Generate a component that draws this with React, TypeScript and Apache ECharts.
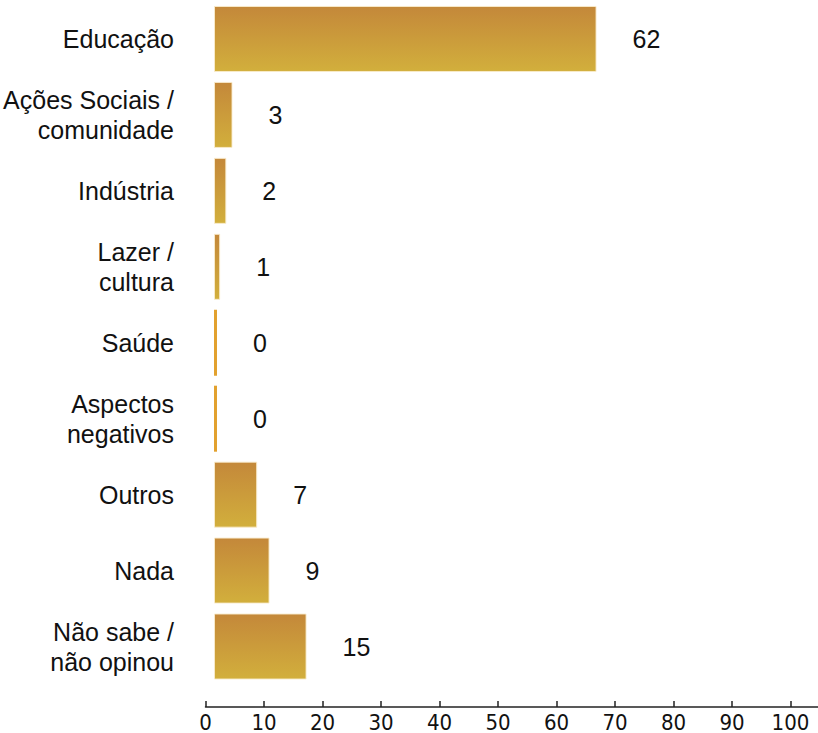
import React, { useEffect, useRef } from "react";
import * as echarts from "echarts";

const categories = [
  "Educação",
  "Ações Sociais /\ncomunidade",
  "Indústria",
  "Lazer /\ncultura",
  "Saúde",
  "Aspectos\nnegativos",
  "Outros",
  "Nada",
  "Não sabe /\nnão opinou",
];
const values = [62, 3, 2, 1, 0, 0, 7, 9, 15];
const tickValues = [0, 10, 20, 30, 40, 50, 60, 70, 80, 90, 100];

export default function App() {
  const ref = useRef<HTMLDivElement>(null);
  useEffect(() => {
    if (!ref.current) return;
    const chart = echarts.init(ref.current, null, { renderer: "svg" });
    const grad = new echarts.graphic.LinearGradient(0, 0, 0, 1, [
      { offset: 0, color: "#C4883A" },
      { offset: 1, color: "#D2AF3C" },
    ]);
    const barScale = 6.17; // px per unit
    chart.setOption({
      animation: false,
      backgroundColor: "#ffffff",
      grid: [
        { left: 214, top: 1, width: 604, height: 683.5, outerBoundsMode: "none", containLabel: false },
        { left: 205.5, top: 690, width: 612.5, height: 17, outerBoundsMode: "none", containLabel: false },
      ],
      xAxis: [
        { gridIndex: 0, type: "value", min: 0, max: 604 / barScale, show: false },
        {
          gridIndex: 1,
          type: "value",
          min: 0,
          max: 612.5 / 5.85,
          position: "bottom",
          splitLine: { show: false },
          axisLine: { show: true, lineStyle: { color: "#222", width: 1.5 } },
          axisTick: {
            show: true,
            inside: true,
            length: 6,
            customValues: tickValues,
            lineStyle: { color: "#222", width: 1.5 },
          },
          axisLabel: {
            customValues: tickValues,
            margin: 4,
            color: "#111",
            fontSize: 22,
            fontFamily: "'Liberation Sans Narrow', 'DejaVu Sans Condensed', sans-serif",
          },
        },
      ],
      yAxis: [
        {
          gridIndex: 0,
          type: "category",
          data: categories,
          inverse: true,
          axisLine: { show: false },
          axisTick: { show: false },
          splitLine: { show: false },
          axisLabel: {
            margin: 40,
            color: "#111",
            fontSize: 25,
            lineHeight: 30,
            align: "right",
            fontFamily: "'Liberation Sans', Arial, sans-serif",
          },
        },
        { gridIndex: 1, type: "value", show: false },
      ],
      series: [
        {
          type: "bar",
          xAxisIndex: 0,
          yAxisIndex: 0,
          barCategoryGap: "13.1%",
          barMinHeight: 3,
          data: values.map((v) =>
            v === 0
              ? { value: v, itemStyle: { color: "#E2A12E", borderWidth: 0 } }
              : { value: v }
          ),
          itemStyle: {
            color: grad,
            borderColor: "rgba(250,236,205,0.9)",
            borderWidth: 1,
          },
          label: {
            show: true,
            position: "right",
            distance: 36,
            color: "#111",
            fontSize: 25,
            fontFamily: "'Liberation Sans', Arial, sans-serif",
          },
        },
      ],
    });
    return () => chart.dispose();
  }, []);
  return (
    <div
      ref={ref}
      style={{ position: "fixed", left: 0, top: 0, width: 818, height: 733 }}
    />
  );
}
